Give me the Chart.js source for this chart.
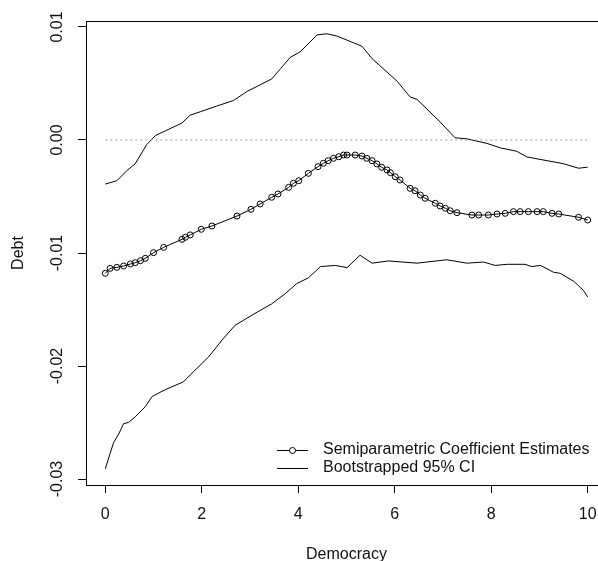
<!DOCTYPE html>
<html>
<head>
<meta charset="utf-8">
<script src="https://cdn.jsdelivr.net/npm/chart.js@4.4.1/dist/chart.umd.min.js"></script>
<style>
  html, body { margin: 0; padding: 0; background: #fff; overflow: hidden; }
  #wrap { width: 598px; height: 561px; overflow: hidden; }
  canvas { display: block; }
</style>
</head>
<body>
<div id="wrap"><canvas id="plot" width="620" height="561"></canvas></div>
<script>
// Democracy values where the estimate was evaluated
const estX = [0.00, 0.10, 0.24, 0.38, 0.52, 0.62, 0.73, 0.83, 1.00, 1.21, 1.59, 1.66, 1.76, 1.99, 2.21, 2.73,
    3.02, 3.21, 3.45, 3.58, 3.80, 3.90, 4.01, 4.21, 4.41, 4.52, 4.62, 4.73, 4.84, 4.94, 5.01, 5.18, 5.32,
    5.42, 5.53, 5.63, 5.73, 5.84, 5.91, 6.01, 6.11, 6.32, 6.42, 6.53, 6.63, 6.84, 6.94, 7.05, 7.15, 7.29,
    7.60, 7.74, 7.94, 8.12, 8.29, 8.46, 8.60, 8.77, 8.95, 9.08, 9.26, 9.40, 9.81, 10.00];
const estY = [-0.0118, -0.01136, -0.01127, -0.01115, -0.01097, -0.01086, -0.01068, -0.01047, -0.00997, -0.0095,
    -0.00879, -0.00861, -0.0084, -0.0079, -0.00761, -0.00673, -0.00613, -0.00566, -0.00507, -0.00478, -0.00419,
    -0.00383, -0.0036, -0.00295, -0.00236, -0.00206, -0.00183, -0.00162, -0.00148, -0.00133, -0.00133, -0.00133,
    -0.00142, -0.00162, -0.00183, -0.00212, -0.00242, -0.00265, -0.00289, -0.00325, -0.00354, -0.00428, -0.00449,
    -0.00487, -0.00516, -0.0056, -0.00584, -0.00604, -0.00626, -0.00643, -0.00664, -0.00664, -0.00664, -0.00655,
    -0.00649, -0.00634, -0.00634, -0.00634, -0.00634, -0.00634, -0.00649, -0.00655, -0.00684, -0.00708];

// Bootstrapped 95% CI, upper bound
const upperX = [0.00, 0.24, 0.45, 0.62, 0.86, 1.04, 1.24, 1.59, 1.76, 1.97, 2.31, 2.66, 2.94, 3.45, 3.63, 3.83,
    4.04, 4.39, 4.59, 4.80, 5.32, 5.53, 6.05, 6.32, 6.46, 6.94, 7.25, 7.50, 7.91, 8.19, 8.53, 8.74, 9.50, 9.81, 10.00];
const upperY = [-0.0039, -0.0036, -0.0027, -0.0021, -0.0004, 0.0004, 0.0008, 0.0015, 0.0022, 0.0025, 0.0030,
    0.0035, 0.0043, 0.0054, 0.0063, 0.0073, 0.0078, 0.0093, 0.0094, 0.0092, 0.0083, 0.0072, 0.0052, 0.0038,
    0.0036, 0.0016, 0.0002, 0.0001, -0.0003, -0.0007, -0.0010, -0.0015, -0.0021, -0.0025, -0.0024];

// Bootstrapped 95% CI, lower bound
const lowerX = [0.00, 0.17, 0.28, 0.38, 0.48, 0.62, 0.83, 0.97, 1.24, 1.62, 1.76, 2.14, 2.42, 2.69, 3.04, 3.45,
    3.73, 3.97, 4.21, 4.46, 4.77, 5.01, 5.28, 5.53, 5.87, 6.46, 7.08, 7.50, 7.84, 8.08, 8.33, 8.70, 8.84, 9.02,
    9.29, 9.43, 9.71, 9.91, 10.00];
const lowerY = [-0.0291, -0.0268, -0.0260, -0.0251, -0.0250, -0.0245, -0.0236, -0.0227, -0.0221, -0.0214, -0.0208,
    -0.0192, -0.0177, -0.0164, -0.0155, -0.0145, -0.0136, -0.0127, -0.0122, -0.0112, -0.0111, -0.0113, -0.0102,
    -0.0109, -0.0107, -0.0109, -0.0106, -0.0109, -0.0108, -0.0111, -0.0110, -0.0110, -0.0112, -0.0111, -0.0117,
    -0.0118, -0.0125, -0.0133, -0.0139];

const xTicks = [0, 2, 4, 6, 8, 10];
const yTicks = [-0.03, -0.02, -0.01, 0, 0.01];
const yTickLabels = ['-0.03', '-0.02', '-0.01', '0.00', '0.01'];
const zeroLineX = [0, 10];
const zeroLineY = [0, 0];

const legendLabels = ['Semiparametric Coefficient Estimates', 'Bootstrapped 95% CI'];

const FONT = '"Liberation Sans", Arial, sans-serif';
const TEXT = '#111';

function toPoints(xs, ys) {
    return xs.map((x, i) => ({ x: x, y: ys[i] }));
}

// Draws the R-style box, y tick labels and the legend
const boxPlugin = {
    id: 'rbox',
    afterDraw(chart) {
        const ctx = chart.ctx;
        const a = chart.chartArea;
        const yScale = chart.scales.y;
        ctx.save();
        ctx.strokeStyle = '#000';
        ctx.lineWidth = 1;
        ctx.strokeRect(Math.round(a.left) + 0.5, Math.round(a.top) + 0.5,
            Math.round(a.right - a.left), Math.round(a.bottom - a.top));

        // y tick labels, rotated like R's las=0
        ctx.fillStyle = TEXT;
        ctx.font = '16px ' + FONT;
        ctx.textAlign = 'center';
        ctx.textBaseline = 'middle';
        yTicks.forEach((v, i) => {
            const py = yScale.getPixelForValue(v);
            ctx.save();
            ctx.translate(58, py);
            ctx.rotate(-Math.PI / 2);
            ctx.fillText(yTickLabels[i], 0, 0);
            ctx.restore();
        });

        // legend
        const rows = [450, 468];
        ctx.textAlign = 'left';
        rows.forEach((ry, i) => {
            ctx.beginPath();
            ctx.moveTo(277, ry + 0.5);
            ctx.lineTo(308, ry + 0.5);
            ctx.stroke();
            if (i === 0) {
                ctx.beginPath();
                ctx.fillStyle = '#fff';
                ctx.arc(292.5, ry + 0.5, 3, 0, Math.PI * 2);
                ctx.fill();
                ctx.stroke();
                ctx.fillStyle = TEXT;
            }
            ctx.fillText(legendLabels[i], 323, ry);
        });
        ctx.restore();
    }
};

const ctx = document.getElementById('plot').getContext('2d');
const chart = new Chart(ctx, {
    type: 'scatter',
    data: {
        datasets: [
            {
                data: toPoints(zeroLineX, zeroLineY),
                showLine: true,
                borderColor: '#9a9a9a',
                borderWidth: 1,
                borderDash: [2, 3],
                pointRadius: 0
            },
            {
                data: toPoints(upperX, upperY),
                showLine: true,
                borderColor: '#000',
                borderWidth: 1,
                pointRadius: 0
            },
            {
                data: toPoints(lowerX, lowerY),
                showLine: true,
                borderColor: '#000',
                borderWidth: 1,
                pointRadius: 0
            },
            {
                data: toPoints(estX, estY),
                showLine: true,
                borderColor: '#000',
                borderWidth: 1,
                pointRadius: 3,
                pointBorderWidth: 1,
                pointBorderColor: '#000',
                pointBackgroundColor: 'rgba(0,0,0,0)'
            }
        ]
    },
    options: {
        responsive: false,
        animation: false,
        devicePixelRatio: 1,
        layout: { padding: { top: 21, right: 13, left: 0, bottom: 0 } },
        plugins: {
            legend: { display: false },
            tooltip: { enabled: false }
        },
        scales: {
            x: {
                type: 'linear',
                min: -0.4,
                max: 10.4,
                afterBuildTicks: scale => { scale.ticks = xTicks.map(v => ({ value: v })); },
                afterFit: scale => { scale.height = 76; },
                grid: { drawOnChartArea: false, drawTicks: true, tickLength: 8, color: '#000' },
                border: { display: false },
                ticks: {
                    color: TEXT,
                    padding: 12,
                    font: { family: FONT, size: 16 },
                    maxRotation: 0
                },
                title: {
                    display: true,
                    text: 'Democracy',
                    color: TEXT,
                    font: { family: FONT, size: 16, lineHeight: 1 },
                    padding: { top: 0, bottom: -2 }
                }
            },
            y: {
                type: 'linear',
                min: -0.03053,
                max: 0.01053,
                afterBuildTicks: scale => { scale.ticks = yTicks.map(v => ({ value: v })); },
                afterFit: scale => { scale.width = 86; },
                grid: { drawOnChartArea: false, drawTicks: true, tickLength: 8, color: '#000' },
                border: { display: false },
                ticks: {
                    callback: () => '',
                    font: { family: FONT, size: 16 }
                },
                title: {
                    display: true,
                    text: 'Debt',
                    color: TEXT,
                    font: { family: FONT, size: 16, lineHeight: 1 },
                    padding: { top: 11, bottom: 0 }
                }
            }
        }
    },
    plugins: [boxPlugin]
});
</script>
</body>
</html>
